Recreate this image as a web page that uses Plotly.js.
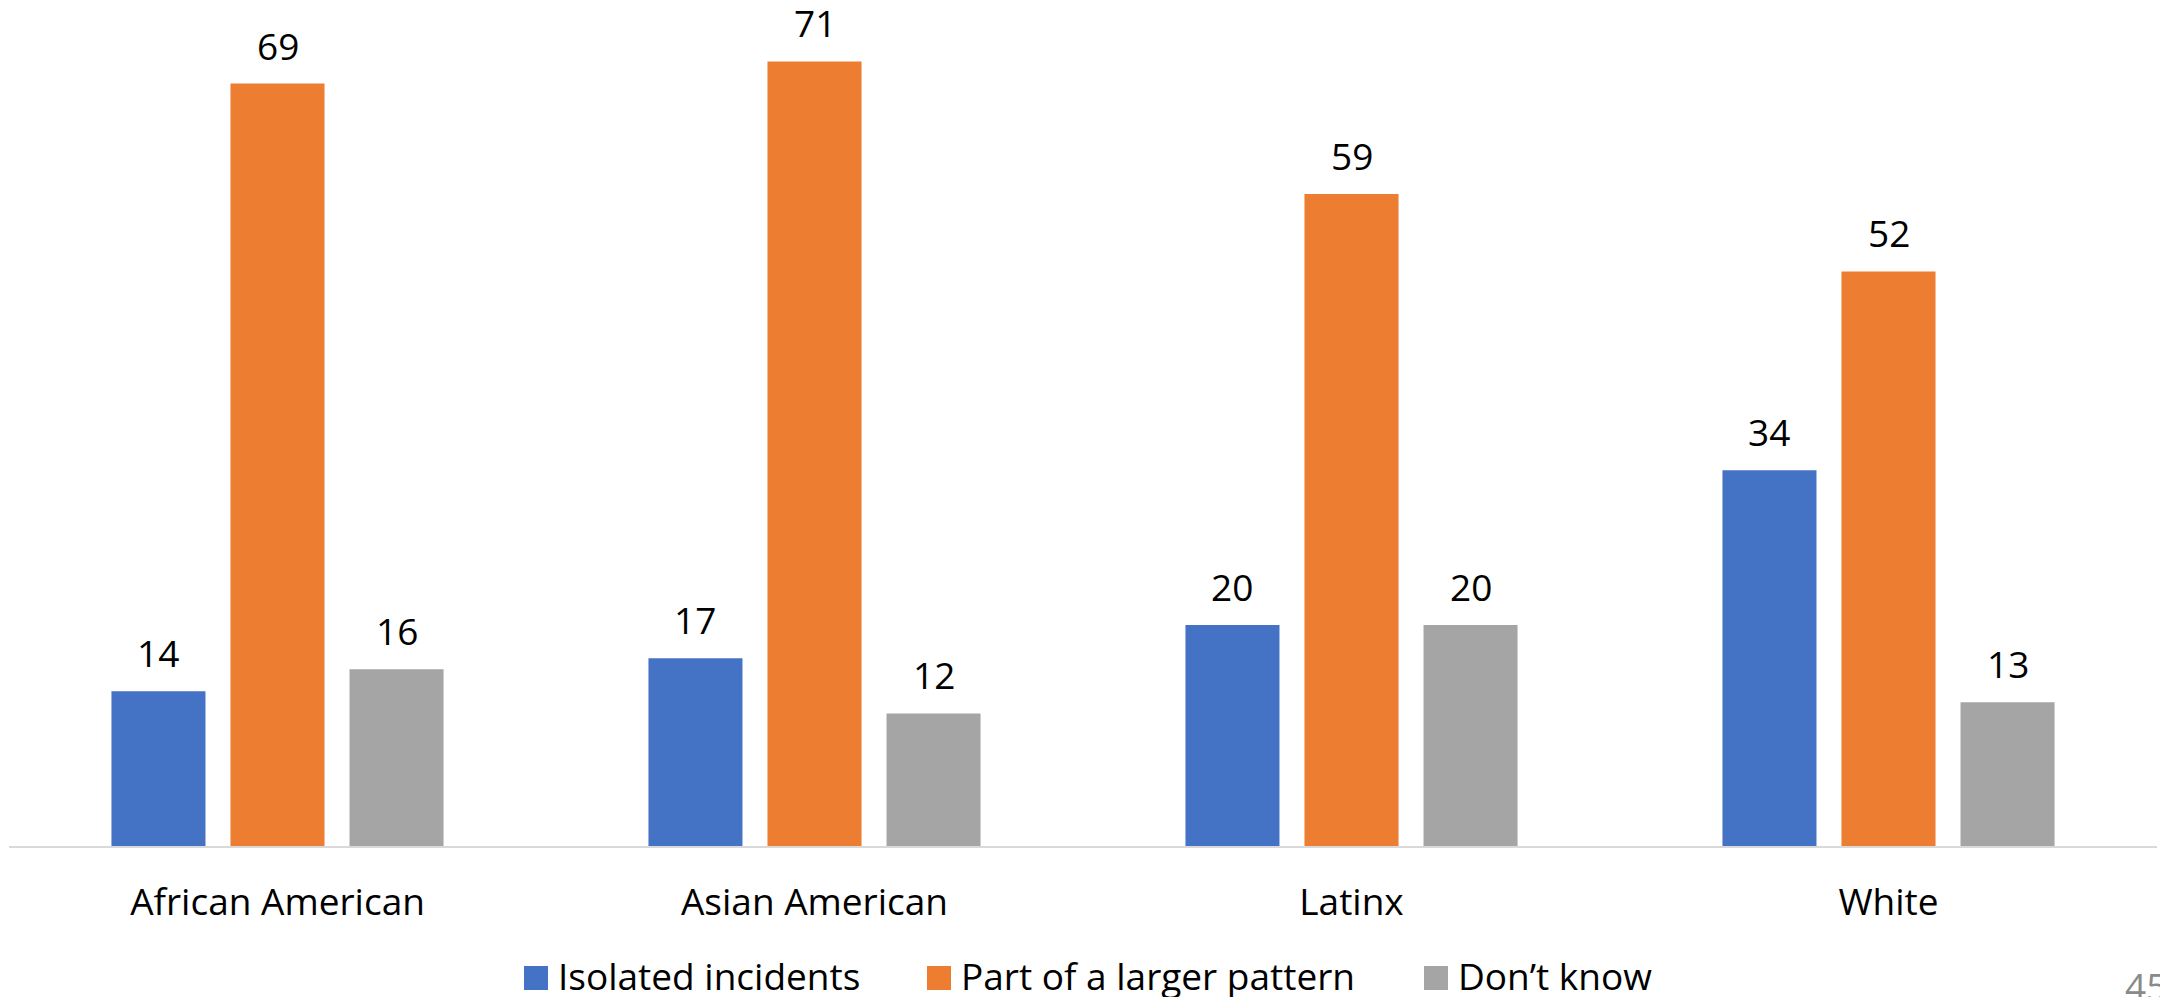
<!DOCTYPE html>
<html>
<head>
<meta charset="utf-8">
<script src="https://cdn.plot.ly/plotly-3.0.1.min.js"></script>
<style>
  html, body { margin: 0; padding: 0; background: #ffffff; }
  #chart { width: 2160px; height: 997px; }
</style>
</head>
<body>
<div id="chart"></div>
<script>
// Survey: are these incidents isolated or part of a larger pattern? (percent)
const categories = ['African American', 'Asian American', 'Latinx', 'White'];
const isolatedIncidents = [14, 17, 20, 34];
const largerPattern = [69, 71, 59, 52];
const dontKnow = [16, 12, 20, 13];
const seriesNames = ['Isolated incidents', 'Part of a larger pattern', 'Don\u2019t know'];
const seriesColors = ['#4472C4', '#ED7D31', '#A5A5A5'];
const pageNumber = '45';

const seriesValues = [isolatedIncidents, largerPattern, dontKnow];

// Page geometry
const W = 2160, H = 997;
const margin = { l: 9, r: 3, t: 20, b: 151 };
const plotW = W - margin.l - margin.r;
const plotH = H - margin.t - margin.b;
const plotBottom = H - margin.b;
const FONT = '"Open Sans", "DejaVu Sans", sans-serif';
const FS = 37;

const px2x = px => (px - margin.l) / plotW;
const py2y = py => (plotBottom - py) / plotH;

const bargap = 0.335;
const bargroupgap = 0.21;
const slotPx = plotW / categories.length * (1 - bargap) / seriesValues.length;

const traces = seriesValues.map((vals, i) => ({
  type: 'bar',
  name: seriesNames[i],
  x: categories,
  y: vals,
  marker: { color: seriesColors[i], line: { width: 0 } },
  showlegend: false,
  hoverinfo: 'skip'
}));

// Value labels above each bar
const annotations = [];
seriesValues.forEach((vals, i) => {
  vals.forEach((v, k) => {
    annotations.push({
      x: categories[k], y: v, xref: 'x', yref: 'y',
      text: String(v), showarrow: false,
      xanchor: 'center', yanchor: 'bottom',
      xshift: (i - (seriesValues.length - 1) / 2) * slotPx,
      yshift: 11,
      font: { family: FONT, size: FS, color: '#000000' }
    });
  });
});

// Legend row along the bottom: coloured swatch followed by the series name
const swatch = 24;
const swatchLeft = [524, 927, 1424];
const legendMid = 978;
const shapes = [];
seriesNames.forEach((name, i) => {
  const x0 = swatchLeft[i];
  shapes.push({
    type: 'rect', xref: 'paper', yref: 'paper',
    x0: px2x(x0), x1: px2x(x0 + swatch),
    y0: py2y(legendMid + swatch / 2), y1: py2y(legendMid - swatch / 2),
    fillcolor: seriesColors[i], line: { width: 0 }
  });
  annotations.push({
    x: px2x(x0 + swatch + 8), y: py2y(legendMid - 3), xref: 'paper', yref: 'paper',
    text: name, showarrow: false, xanchor: 'left', yanchor: 'middle',
    font: { family: FONT, size: FS, color: '#000000' }
  });
});

// Slide number in the corner
annotations.push({
  x: px2x(2123), y: py2y(958), xref: 'paper', yref: 'paper',
  text: pageNumber, showarrow: false, xanchor: 'left', yanchor: 'top',
  font: { family: FONT, size: FS, color: '#8A8A8A' }
});

const layout = {
  width: W, height: H,
  margin: margin,
  paper_bgcolor: '#ffffff', plot_bgcolor: '#ffffff',
  font: { family: FONT, size: FS, color: '#000000' },
  barmode: 'group',
  bargap: bargap,
  bargroupgap: bargroupgap,
  showlegend: false,
  xaxis: {
    type: 'category',
    range: [-0.5, categories.length - 0.5],
    showline: true, linecolor: '#D9D9D9', linewidth: 2,
    ticks: '', showgrid: false, zeroline: false,
    tickfont: { family: FONT, size: FS, color: '#000000' },
    ticklabelstandoff: 23,
    fixedrange: true
  },
  yaxis: {
    range: [0, plotH / 11.05],
    visible: false, showgrid: false, zeroline: false,
    fixedrange: true
  },
  shapes: shapes,
  annotations: annotations
};

Plotly.newPlot('chart', traces, layout, { displayModeBar: false, staticPlot: true });
</script>
</body>
</html>
